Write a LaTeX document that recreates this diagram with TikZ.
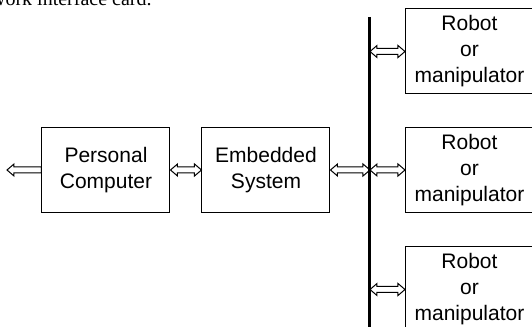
\documentclass[tikz,border=0pt]{standalone}
\usepackage{fontspec}
\setmainfont{Liberation Sans}
\newfontfamily\capfont{Liberation Serif}
\usetikzlibrary{positioning, calc}

\tikzset{
  block/.style={draw, line width=0.5pt, minimum width=64pt, minimum height=42.5pt,
    inner sep=0pt, align=center, font=\fontsize{10.5}{13}\selectfont},
  bus/.style={line width=1.5pt},
  % open double-lined arrow, heads at both ends
  hollow both/.style={draw, line width=0.5pt, fill=white,
    to path={-- ++(7,6) -- ++(0,-3) -- ($(\tikztotarget)+(-7,3)$) -- ++(0,3)
      -- (\tikztotarget) -- ++(-7,-6) -- ++(0,3) -- ($(\tikztostart)+(7,-3)$)
      -- ++(0,-3) -- cycle}},
  % same, one head only, pointing left
  hollow left/.style={draw, line width=0.5pt, fill=white,
    to path={-- ++(0,3) -- ($(\tikztotarget)+(7,3)$) -- ++(0,3)
      -- (\tikztotarget) -- ++(7,-6) -- ++(0,3) -- ($(\tikztostart)+(0,-3)$)
      -- cycle}}
}

\begin{document}
\begin{tikzpicture}[x=0.5pt,y=0.5pt,node distance=80pt]
    \useasboundingbox (0,0) rectangle (532,327);

    \node[anchor=base east, inner sep=0pt, font=\capfont\fontsize{10}{12}\selectfont] (cap) at (152,321) {work interface card.};

    \node[block] (pc) at (106,157) {Personal\\Computer};
    \node[block] (es) [right of=pc] {Embedded\\System};
    \node[block] (r2) [right of=es, xshift=21.75pt] {Robot\\or\\manipulator};
    \node[block] (r1) [above of=r2, node distance=59.25pt] {Robot\\or\\manipulator};
    \node[block] (r3) [below of=r2, node distance=59.75pt] {Robot\\or\\manipulator};

    \coordinate (out) at (7,157);
    \coordinate (bustop) at (370,310);
    \coordinate (busbot) at (370,0);
    \coordinate (j1) at (bustop |- r1.west);
    \coordinate (j2) at (bustop |- r2.west);
    \coordinate (j3) at (bustop |- r3.west);

    \path (pc.west) edge[hollow left] (out)
          (pc.east) edge[hollow both] (es.west)
          (es.east) edge[hollow both] (j2)
          (j1) edge[hollow both] (r1.west)
          (j2) edge[hollow both] (r2.west)
          (j3) edge[hollow both] (r3.west);

    \draw[bus] (bustop) -- (busbot);
\end{tikzpicture}
\end{document}
